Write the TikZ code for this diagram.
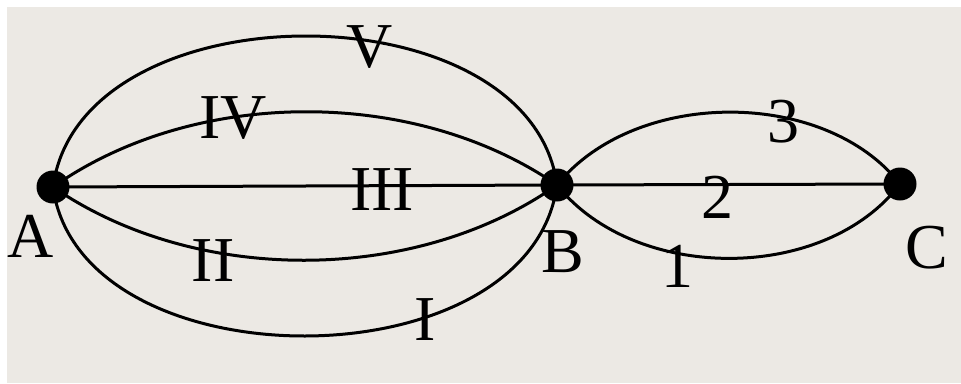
\documentclass[tikz,border=0pt]{standalone}
\usepackage{fontspec}
\setmainfont{Liberation Serif}
\definecolor{bggrey}{RGB}{236,233,228}
\begin{document}
\begin{tikzpicture}[x=1pt,y=-1pt,
  dot/.style={circle,fill=black,inner sep=0pt,minimum size=33pt},
  lbl/.style={inner sep=0pt,font=\fontsize{64}{64}\selectfont},
  edge/.style={line width=3pt}]
\useasboundingbox (0,0) rectangle (961,383);
\fill[white] (0,0) rectangle (961,383);
\fill[bggrey] (7,7) rectangle (961,383);
\node[dot] (A) at (53,187) {};
\node[dot] (B) at (557,185) {};
\node[dot] (C) at (900,184) {};
% A to B
\draw[edge] (A.center) .. controls (80,-14) and (530,-14) .. (B.center);
\draw[edge] (A.center) .. controls (195,87) and (415,87) .. (B.center);
\draw[edge] (A.center) -- (B.center);
\draw[edge] (A.center) .. controls (195,285) and (415,285) .. (B.center);
\draw[edge] (A.center) .. controls (80,386) and (530,386) .. (B.center);
% B to C
\draw[edge] (B.center) .. controls (635,88) and (825,88) .. (C.center);
\draw[edge] (B.center) -- (C.center);
\draw[edge] (B.center) .. controls (635,283) and (825,283) .. (C.center);
% labels
\node[lbl] (lV) at (370,47) {V};
\node[lbl] (lIV) at (233,118) {IV};
\node[lbl] (lIII) at (382,190) {III};
\node[lbl] (lII) at (213,261) {II};
\node[lbl] (lI) at (425,320) {I};
\node[lbl] (l3) at (783,122) {3};
\node[lbl] (l2) at (717,197) {2};
\node[lbl] (l1) at (677,266) {1};
\node[lbl] (tA) at (31,236) {A};
\node[lbl] (tB) at (563,252) {B};
\node[lbl] (tC) at (927,248) {C};
\end{tikzpicture}
\end{document}
